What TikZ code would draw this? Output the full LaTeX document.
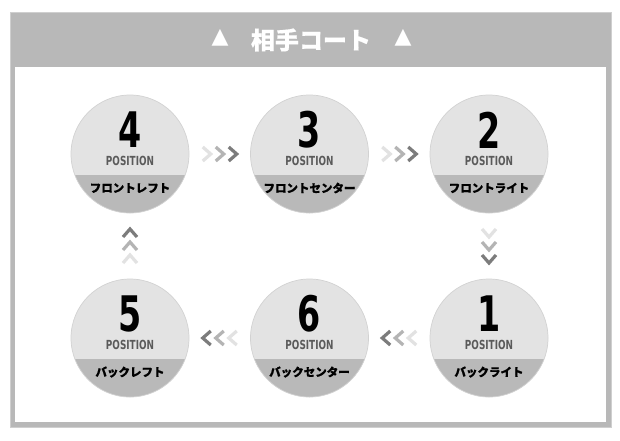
\documentclass[tikz,border=0pt]{standalone}
\usepackage{fontspec}
\setmainfont{DejaVu Sans}
\newfontfamily\jp{Noto Sans CJK JP}[BoldFeatures={FakeBold=0.6}]
\usetikzlibrary{calc}
\definecolor{framegray}{HTML}{B8B8B8}
\definecolor{frameedge}{HTML}{CFCFCF}
\definecolor{circtop}{HTML}{E3E3E3}
\definecolor{circband}{HTML}{B9B9B9}
\definecolor{circedge}{HTML}{D2D2D2}
\definecolor{postext}{HTML}{5A5A5A}
\definecolor{chevA}{HTML}{E2E2E2}
\definecolor{chevB}{HTML}{B4B4B4}
\definecolor{chevC}{HTML}{7C7C7C}
\newcommand\narrowtxt[2]{\scalebox{#1}[1]{#2}}
\tikzset{
  posbox/.style={circle, minimum size=118pt, inner sep=0pt, fill=circtop, draw=circedge, line width=0.7pt,
    path picture={\fill[circband] ([xshift=-70pt,yshift=-21pt]path picture bounding box.center) rectangle ([xshift=70pt,yshift=-70pt]path picture bounding box.center);}},
  numtxt/.style={inner sep=0pt, text=black, font=\bfseries\fontsize{49}{49}\selectfont},
  postxt/.style={inner sep=0pt, text=postext, font=\bfseries\fontsize{12.5}{12.5}\selectfont},
  jptxt/.style={inner sep=0pt, text=black, font=\jp\bfseries\fontsize{11.5}{11.5}\selectfont},
  titletxt/.style={inner sep=0pt, text=white, font=\jp\bfseries\fontsize{24}{24}\selectfont},
  tritxt/.style={inner sep=0pt, text=white, font=\fontsize{22}{22}\selectfont},
  chevline/.style={line width=3.2pt, line join=miter, line cap=butt},
  chevs/.pic={
    \draw[chevline, chevA] (-17,-7) -- (-9,0) -- (-17,7);
    \draw[chevline, chevB] (-4,-7) -- (4,0) -- (-4,7);
    \draw[chevline, chevC] (9,-7) -- (17,0) -- (9,7);
  }
}
\begin{document}
\begin{tikzpicture}[x=1pt,y=-1pt]
\useasboundingbox (0,0) rectangle (620,440);
\fill[white] (0,0) rectangle (620,440);
\fill[framegray, draw=frameedge, line width=1pt] (10,12) rectangle (611,427);
\fill[white] (15,67) rectangle (606,422);
\node[titletxt] (title) at (311,40) {相手コート};
\node[tritxt] (triL) at (220,38) {▲};
\node[tritxt] (triR) at (403,38) {▲};

\node[posbox] (p4) at (130,154) {};
\node[posbox] (p3) at (309.5,154) {};
\node[posbox] (p2) at (489,154) {};
\node[posbox] (p5) at (130,338) {};
\node[posbox] (p6) at (309.5,338) {};
\node[posbox] (p1) at (489,338) {};

\foreach \p/\n/\j in {p4/4/フロントレフト, p3/3/フロントセンター, p2/2/フロントライト, p5/5/バックレフト, p6/6/バックセンター, p1/1/バックライト}{
  \node[numtxt] (num\n) at ($(\p)+(0,-24)$) {\narrowtxt{0.68}{\n}};
  \node[postxt] (pos\n) at ($(\p)+(0,6.5)$) {\narrowtxt{0.71}{POSITION}};
  \node[jptxt] (lab\n) at ($(\p)+(0,34)$) {\j};
}

\coordinate (a43) at ($(p4)!0.5!(p3)$);
\coordinate (a32) at ($(p3)!0.5!(p2)$);
\coordinate (a21) at ($(p2)!0.5!(p1)$);
\coordinate (a16) at ($(p1)!0.5!(p6)$);
\coordinate (a65) at ($(p6)!0.5!(p5)$);
\coordinate (a54) at ($(p5)!0.5!(p4)$);
\pic at (a43) {chevs};
\pic at (a32) {chevs};
\pic[rotate=-90] at (a21) {chevs};
\pic[rotate=180] at (a16) {chevs};
\pic[rotate=180] at (a65) {chevs};
\pic[rotate=90] at (a54) {chevs};
\end{tikzpicture}
\end{document}
